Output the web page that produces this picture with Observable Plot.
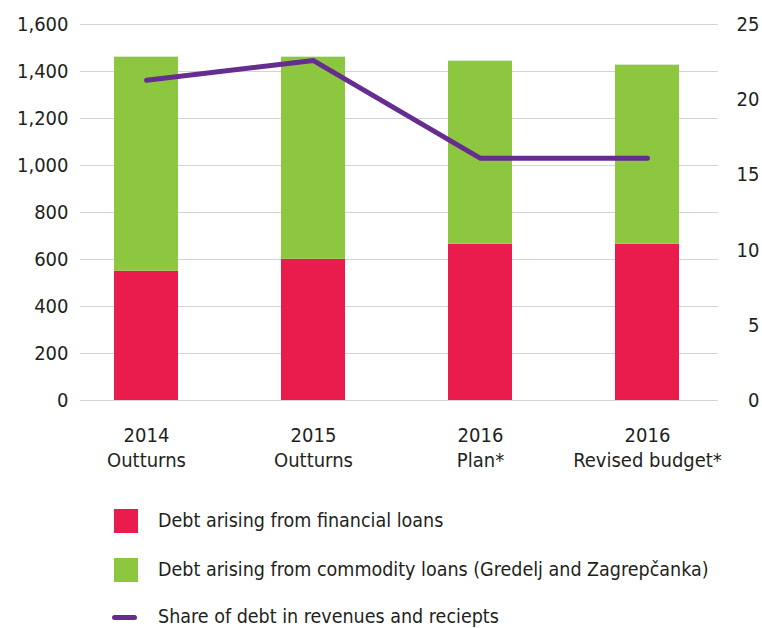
<!DOCTYPE html>
<html><head><meta charset="utf-8">
<script src="https://cdn.jsdelivr.net/npm/d3@7"></script>
<script src="https://cdn.jsdelivr.net/npm/@observablehq/plot@0.6"></script>
<style>
body{margin:0;background:#fff;font-family:"DejaVu Sans Condensed",sans-serif;color:#231f20;}
#wrap{width:762px;height:628px;overflow:hidden;}
#legend{position:relative;width:762px;height:148px;font-size:19.5px;}
.sw{position:absolute;width:24px;height:24px;}
.ln{position:absolute;width:25px;height:5px;border-radius:3px;}
.lt{position:absolute;left:158px;line-height:24px;white-space:nowrap;}
</style></head><body><div id="wrap"><div id="chart"></div><div id="legend"></div></div>
<script>
const years = ["2014","2015","2016","2016"];
const stages = ["Outturns","Outturns","Plan*","Revised budget*"];
const financial = [550, 601, 665, 665];
const commodity = [911, 860, 779, 762];
const share = [21.3, 22.6, 16.1, 16.1];
const leftTicks = [0,200,400,600,800,1000,1200,1400,1600];
const rightTicks = [0,5,10,15,20,25];
const seriesNames = ["Debt arising from financial loans","Debt arising from commodity loans (Gredelj and Zagrepčanka)"];
const lineName = "Share of debt in revenues and reciepts";
const colors = ["#E91C4D","#8DC63F"];
const lineColor = "#662D91";

const cats = years.map((y,i)=>y+"\n"+stages[i]);
const bars = cats.flatMap((c,i)=>[
  {cat:c, series:seriesNames[0], value:financial[i]},
  {cat:c, series:seriesNames[1], value:commodity[i]}
]);
const k = 1600/25;
const lineData = cats.map((c,i)=>({cat:c, share:share[i]}));

const chart = Plot.plot({
  width:762, height:480, marginTop:24, marginLeft:80, marginRight:44, marginBottom:80,
  style:{fontFamily:'"DejaVu Sans Condensed",sans-serif', fontSize:"20px", color:"#231f20", background:"#fff"},
  x:{domain:cats, paddingInner:0.617, paddingOuter:0.2153, align:0.472, label:null},
  y:{domain:[0,1600], label:null},
  color:{domain:seriesNames, range:colors},
  marks:[
    Plot.ruleY(leftTicks, {stroke:"#d4d4d4", strokeWidth:1}),
    Plot.barY(bars, {x:"cat", y:"value", fill:"series"}),
    Plot.line(lineData, {x:"cat", y:d=>d.share*k, stroke:lineColor, strokeWidth:5, strokeLinecap:"round", strokeLinejoin:"round"}),
    Plot.axisY({ticks:leftTicks, tickSize:0, tickPadding:12, tickFormat:d3.format(","), label:null}),
    Plot.axisY({anchor:"right", ticks:rightTicks.map(v=>v*k), tickFormat:d=>d3.format("d")(Math.round(d/k)), tickSize:0, tickPadding:41, textAnchor:"end", label:null}),
    Plot.axisX({tickSize:0, tickPadding:24, lineHeight:1.25, label:null})
  ]
});
document.getElementById("chart").appendChild(chart);

const lg = document.getElementById("legend");
const rows = [
  {type:"sw", color:colors[0], text:seriesNames[0], top:29},
  {type:"sw", color:colors[1], text:seriesNames[1], top:78},
  {type:"ln", color:lineColor, text:lineName, top:125}
];
rows.forEach(r=>{
  const s = document.createElement("div");
  s.className = r.type;
  s.style.background = r.color;
  if(r.type==="sw"){ s.style.left="114px"; s.style.top=r.top+"px"; }
  else { s.style.left="112px"; s.style.top=(r.top+10)+"px"; }
  lg.appendChild(s);
  const t = document.createElement("div");
  t.className="lt"; t.textContent=r.text; t.style.top=r.top+"px";
  lg.appendChild(t);
});
</script></body></html>
